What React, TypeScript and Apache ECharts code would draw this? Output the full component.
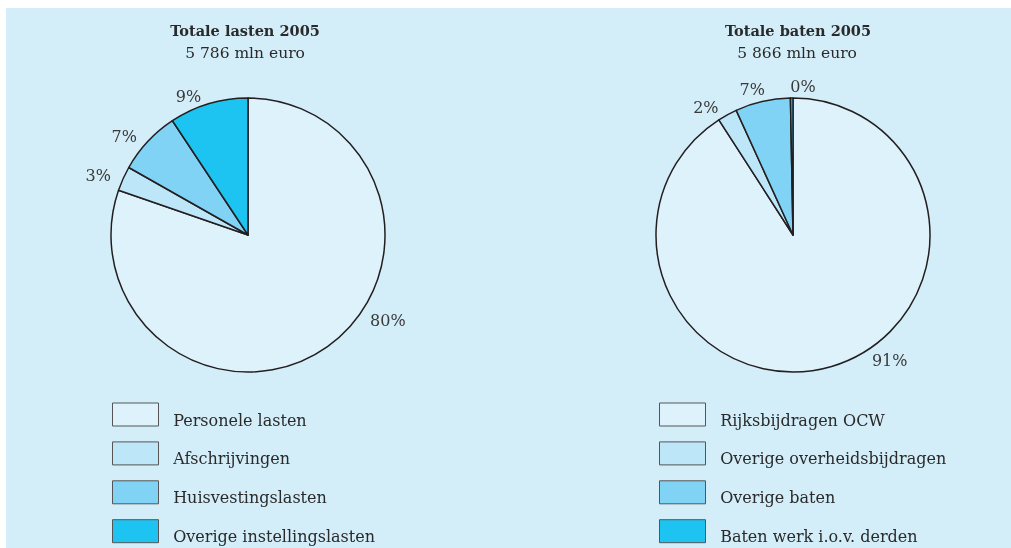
import React, { useEffect, useRef } from "react";
import * as echarts from "echarts";

const lastenNames = ["Personele lasten", "Afschrijvingen", "Huisvestingslasten", "Overige instellingslasten"];
const lastenValues = [80.3, 2.9, 7.5, 9.3];
const lastenLabels = ["80%", "3%", "7%", "9%"];

const batenNames = ["Rijksbijdragen OCW", "Overige overheidsbijdragen", "Overige baten", "Baten werk i.o.v. derden"];
const batenValues = [90.9, 2.3, 6.5, 0.3];
const batenLabels = ["91%", "2%", "7%", "0%"];

const sliceColors = ["#def2fc", "#bde6f8", "#80d3f5", "#1ec4f1"];

const FONT = "DejaVu Serif";

export default function App() {
  const ref = useRef<HTMLDivElement>(null);
  useEffect(() => {
    if (!ref.current) return;
    const chart = echarts.init(ref.current, undefined, { renderer: "svg" });
    const mkData = (names: string[], values: number[]) =>
      names.map((n, i) => ({ name: n, value: values[i], itemStyle: { color: sliceColors[i] } }));
    const labelShift: Record<string, [number, number]> = {
      "0-0": [33, -33],
      "1-0": [33, -14],
      "1-2": [9, -4],
      "1-3": [29, -4],
    };
    const pieBase = {
      type: "pie",
      radius: 137,
      startAngle: 90,
      clockwise: true,
      avoidLabelOverlap: false,
      silent: true,
      itemStyle: { borderColor: "#231f20", borderWidth: 1.5 },
      label: {
        show: true,
        position: "outside",
        fontFamily: FONT,
        fontSize: 16,
        color: "#3a3a3a",
      },
      labelLine: { show: false, length: 8, length2: 0 },
      emphasis: { disabled: true },
    };
    const legendBase = {
      orient: "vertical",
      top: 402.5,
      height: 145,
      padding: 0,
      itemWidth: 46,
      itemHeight: 23,
      itemGap: 13.4,
      icon: "rect",
      selectedMode: false,
      itemStyle: { borderColor: "#555", borderWidth: 1 },
      formatter: (name: string) => `{s| }{t|${name}}`,
      textStyle: {
        fontFamily: FONT,
        fontSize: 16,
        color: "#2a2a2a",
        padding: [0, 0, 0, 9],
        rich: {
          s: { fontSize: 2, lineHeight: 27 },
          t: { fontFamily: FONT, fontSize: 16, color: "#2a2a2a", lineHeight: 18, verticalAlign: "bottom" },
        },
      },
    };
    chart.setOption({
      animation: false,
      graphic: [
        { type: "rect", z: -10, shape: { x: 6, y: 8, width: 1005, height: 540 }, style: { fill: "#d3edf9" } },
        { type: "text", x: 245, y: 30, style: { text: "Totale lasten 2005", font: `bold 14.5px '${FONT}'`, fill: "#2a2a2a", textAlign: "center", textVerticalAlign: "middle" } },
        { type: "text", x: 245, y: 53, style: { text: "5 786 mln euro", font: `15.5px '${FONT}'`, fill: "#2a2a2a", textAlign: "center", textVerticalAlign: "middle" } },
        { type: "text", x: 798, y: 30, style: { text: "Totale baten 2005", font: `bold 14.5px '${FONT}'`, fill: "#2a2a2a", textAlign: "center", textVerticalAlign: "middle" } },
        { type: "text", x: 797, y: 53, style: { text: "5 866 mln euro", font: `15.5px '${FONT}'`, fill: "#2a2a2a", textAlign: "center", textVerticalAlign: "middle" } },
      ],
      legend: [
        { ...legendBase, left: 112, data: lastenNames },
        { ...legendBase, left: 659, data: batenNames },
      ],
      series: [
        {
          ...pieBase,
          name: "lasten",
          center: [248, 235],
          data: mkData(lastenNames, lastenValues),
          label: { ...pieBase.label, formatter: (p: any) => lastenLabels[p.dataIndex] },
        },
        {
          ...pieBase,
          name: "baten",
          center: [793, 235],
          data: mkData(batenNames, batenValues),
          label: { ...pieBase.label, formatter: (p: any) => batenLabels[p.dataIndex] },
        },
      ],
    });
    chart.setOption({
      series: [0, 1].map((s) => ({
        labelLayout: (p: any) => {
          const d = labelShift[`${s}-${p.dataIndex}`];
          return d ? { dx: d[0], dy: d[1] } : {};
        },
      })),
    });
    return () => chart.dispose();
  }, []);
  return <div ref={ref} style={{ position: "fixed", left: 0, top: 0, width: 1011, height: 548 }} />;
}
